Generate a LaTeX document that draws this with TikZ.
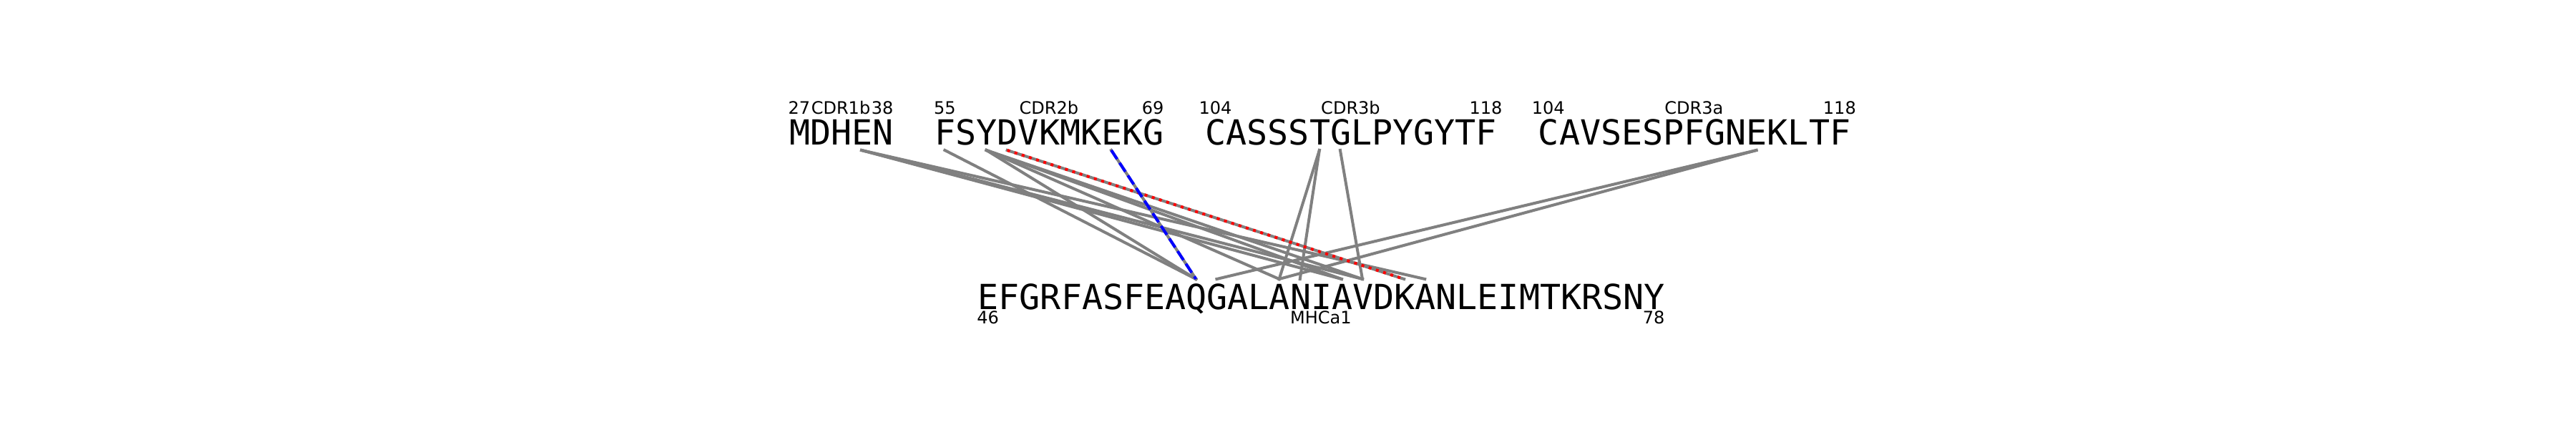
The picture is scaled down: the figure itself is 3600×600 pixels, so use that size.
\documentclass[tikz,border=0pt]{standalone}
\usepackage{fontspec}
\setmainfont{DejaVu Sans}
\newfontfamily\seqfont{DejaVu Sans Mono}

\begin{document}
\begin{tikzpicture}[
    x=0.01cm, y=-0.01cm,
    seq/.style={inner sep=0pt, anchor=base west, font=\seqfont\fontsize{13.74pt}{16pt}\selectfont},
    lab/.style={inner sep=0pt, anchor=base, font=\fontsize{6.83pt}{8pt}\selectfont},
    contact/.style={draw=gray, line width=1.14pt, line cap=rect},
    saltbr/.style={draw=red, line width=1.14pt, dash pattern=on 1.14pt off 1.88pt},
    hbond/.style={draw=blue, line width=1.14pt, dash pattern=on 4.2pt off 1.8pt}
]
    \useasboundingbox (0,0) rectangle (3600,600);
    \def\adv{29.08}  % 每个残基的宽度
    \def\xt{1102.3}  % 上排起点
    \def\xb{1366}    % 下排起点

    % 序列 (上排: TCR, 下排: MHC)
    \node[seq] (cdr1b) at (\xt,202) {MDHEN};
    \node[seq] (cdr2b) at ({\xt+7*\adv},202) {FSYDVKMKEKG};
    \node[seq] (cdr3b) at ({\xt+20*\adv},202) {CASSSTGLPYGYTF};
    \node[seq] (cdr3a) at ({\xt+36*\adv},202) {CAVSESPFGNEKLTF};
    \node[seq] (mhca1) at (\xb,432) {EFGRFASFEAQGALANIAVDKANLEIMTKRSNY};

    % 标签
    \node[lab] (cdr1b-s) at ({\xt+0.5*\adv},159) {27};
    \node[lab] (cdr1b-n) at ({\xt+2.5*\adv},159) {CDR1b};
    \node[lab] (cdr1b-e) at ({\xt+4.5*\adv},159) {38};
    \node[lab] (cdr2b-s) at ({\xt+7.5*\adv},159) {55};
    \node[lab] (cdr2b-n) at ({\xt+12.5*\adv},159) {CDR2b};
    \node[lab] (cdr2b-e) at ({\xt+17.5*\adv},159) {69};
    \node[lab] (cdr3b-s) at ({\xt+20.5*\adv},159) {104};
    \node[lab] (cdr3b-n) at ({\xt+27*\adv},159) {CDR3b};
    \node[lab] (cdr3b-e) at ({\xt+33.5*\adv},159) {118};
    \node[lab] (cdr3a-s) at ({\xt+36.5*\adv},159) {104};
    \node[lab] (cdr3a-n) at ({\xt+43.5*\adv},159) {CDR3a};
    \node[lab] (cdr3a-e) at ({\xt+50.5*\adv},159) {118};
    \node[lab] (mhca1-s) at ({\xb+0.5*\adv},452) {46};
    \node[lab] (mhca1-n) at ({\xb+16.5*\adv},452) {MHCa1};
    \node[lab] (mhca1-e) at ({\xb+32.5*\adv},452) {78};

    % 残基坐标
    \foreach \i in {0,...,50} \coordinate (t\i) at ({\xt+(\i+0.5)*\adv},210);
    \foreach \j in {0,...,32} \coordinate (b\j) at ({\xb+(\j+0.5)*\adv},390);

    % 1. 普通接触
    \draw[contact] (t3) -- (b17);
    \draw[contact] (t3) -- (b18);
    \draw[contact] (t3) -- (b21);
    \draw[contact] (t7) -- (b10);
    \draw[contact] (t9) -- (b10);
    \draw[contact] (t9) -- (b14);
    \draw[contact] (t9) -- (b17);
    \draw[contact] (t9) -- (b18);
    \draw[contact] (t25) -- (b14);
    \draw[contact] (t25) -- (b15);
    \draw[contact] (t26) -- (b18);
    \draw[contact] (t46) -- (b11);
    \draw[contact] (t46) -- (b14);

    % 2. 盐桥 (红色点线)
    \draw[contact] (t10) -- (b20);
    \draw[saltbr] (t10) -- (b20);

    % 3. 氢键 (蓝色虚线)
    \draw[contact] (t15) -- (b10);
    \draw[hbond] (t15) -- (b10);
\end{tikzpicture}
\end{document}
